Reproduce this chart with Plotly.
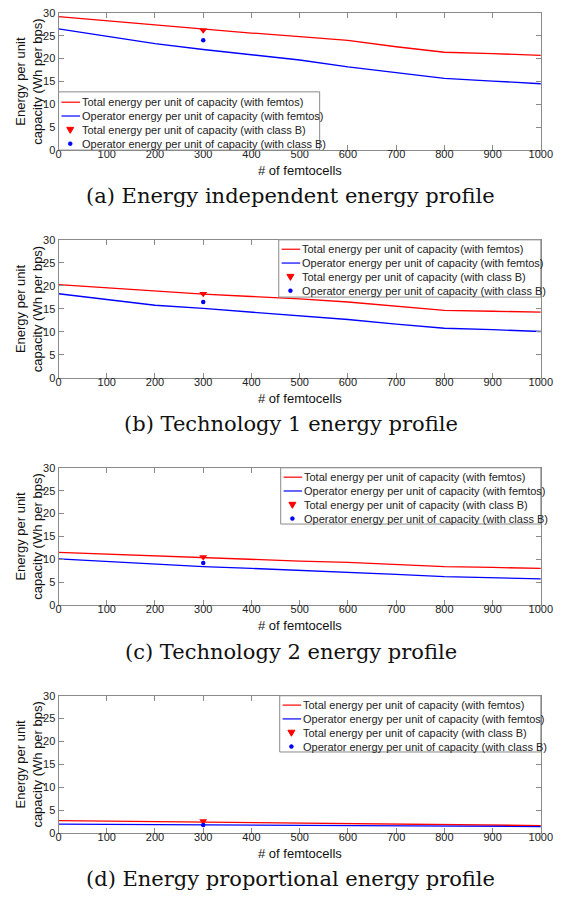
import plotly.graph_objects as go

W, H = 585, 905

x_fem = [0, 100, 200, 300, 400, 500, 600, 700, 800, 900, 1000]
x_classB = [300]

# Panel (a) Energy independent
a_total = [29.2, 28.3, 27.4, 26.4, 25.6, 24.8, 24.0, 22.6, 21.4, 21.1, 20.7]
a_oper = [26.5, 24.9, 23.3, 22.0, 20.9, 19.7, 18.2, 16.9, 15.7, 15.1, 14.5]
a_total_B = [26.2]
a_oper_B = [24.0]

# Panel (b) Technology 1
b_total = [20.3, 19.6, 18.8, 18.2, 17.7, 17.2, 16.5, 15.6, 14.7, 14.5, 14.3]
b_oper = [18.3, 17.0, 15.8, 15.1, 14.3, 13.5, 12.7, 11.7, 10.8, 10.5, 10.1]
b_total_B = [18.3]
b_oper_B = [16.5]

# Panel (c) Technology 2
c_total = [11.5, 11.1, 10.7, 10.3, 10.0, 9.6, 9.3, 8.8, 8.4, 8.2, 8.0]
c_oper = [10.1, 9.5, 8.9, 8.4, 8.0, 7.6, 7.2, 6.7, 6.2, 6.0, 5.7]
c_total_B = [10.5]
c_oper_B = [9.2]

# Panel (d) Energy proportional
d_total = [2.7, 2.6, 2.4, 2.3, 2.2, 2.1, 2.0, 1.9, 1.8, 1.7, 1.6]
d_oper = [1.9, 1.85, 1.8, 1.75, 1.7, 1.65, 1.6, 1.55, 1.5, 1.45, 1.4]
d_total_B = [2.6]
d_oper_B = [1.7]

names = ["Total energy per unit of capacity (with femtos)",
         "Operator energy per unit of capacity (with femtos)",
         "Total energy per unit of capacity (with class B)",
         "Operator energy per unit of capacity (with class B)"]

captions = ["(a) Energy independent energy profile",
            "(b) Technology 1 energy profile",
            "(c) Technology 2 energy profile",
            "(d) Energy proportional energy profile"]

x_ticks = [0, 100, 200, 300, 400, 500, 600, 700, 800, 900, 1000]
y_ticks = [0, 5, 10, 15, 20, 25, 30]

panels = [
    (a_total, a_oper, a_total_B, a_oper_B),
    (b_total, b_oper, b_total_B, b_oper_B),
    (c_total, c_oper, c_total_B, c_oper_B),
    (d_total, d_oper, d_total_B, d_oper_B),
]

RED, BLUE, GRAY = "#ff0000", "#0000ff", "#8a8a8a"
SANS = "Liberation Sans, Arial, sans-serif"

# pixel layout
left_px, right_px = 57, 552
tops = [7, 237, 468, 699]
bottoms = [146, 377, 607, 838]
cap_y = [193, 424, 655, 885]
# legend boxes: (left, top, right, bottom)
leg_boxes = [(57, 87, 325, 146), (283, 237, 552, 295),
             (285, 468, 552, 525), (284, 699, 552, 756)]
leg_text_dx = 22
leg_row_gap = 14


def py(p):
    return 1 - p / H


def px(p):
    return p / W


fig = go.Figure()
annotations = []
shapes = []

for i, (tot, op, totB, opB) in enumerate(panels):
    k = "" if i == 0 else str(i + 1)
    xa, ya = "x" + k, "y" + k
    fig.add_trace(go.Scatter(x=x_fem, y=tot, mode="lines", name=names[0],
                             line=dict(color=RED, width=1.3), showlegend=False,
                             xaxis=xa, yaxis=ya))
    fig.add_trace(go.Scatter(x=x_fem, y=op, mode="lines", name=names[1],
                             line=dict(color=BLUE, width=1.3), showlegend=False,
                             xaxis=xa, yaxis=ya))
    fig.add_trace(go.Scatter(x=x_classB, y=totB, mode="markers", name=names[2],
                             marker=dict(color=RED, symbol="triangle-down", size=7),
                             showlegend=False, xaxis=xa, yaxis=ya))
    fig.add_trace(go.Scatter(x=x_classB, y=opB, mode="markers", name=names[3],
                             marker=dict(color=BLUE, symbol="circle", size=4.5),
                             showlegend=False, xaxis=xa, yaxis=ya))

    dom_y = [py(bottoms[i]), py(tops[i])]
    axcommon = dict(showline=True, linecolor=GRAY, linewidth=1, mirror="ticks",
                    ticks="inside", ticklen=5, tickcolor=GRAY, showgrid=False,
                    zeroline=False, tickfont=dict(family=SANS, size=11, color="#222"))
    fig.layout["xaxis" + k] = dict(domain=[px(left_px), px(right_px)], range=[0, 1000],
                                   tickvals=x_ticks, anchor=ya, ticklabelstandoff=-6,
                                   **axcommon)
    fig.layout["yaxis" + k] = dict(domain=dom_y, range=[0, 30], tickvals=y_ticks,
                                   anchor=xa, **axcommon)

    # manual MATLAB-style legend
    L, T, R, B = leg_boxes[i]
    shapes.append(dict(type="rect", xref="paper", yref="paper",
                       x0=px(L), x1=px(R), y0=py(B), y1=py(T),
                       fillcolor="white", line=dict(color=GRAY, width=1), layer="above"))
    for j in range(4):
        cy = T + 9.5 + j * leg_row_gap + (1 if i == 0 else 0)
        if j < 2:
            shapes.append(dict(type="line", xref="paper", yref="paper",
                               x0=px(L + 3), x1=px(L + leg_text_dx), y0=py(cy), y1=py(cy),
                               line=dict(color=RED if j == 0 else BLUE, width=1.2),
                               layer="above"))
        elif j == 2:
            shapes.append(dict(type="path", xref="paper", yref="paper",
                               xsizemode="pixel", ysizemode="pixel",
                               xanchor=px(L + 12), yanchor=py(cy),
                               path="M -3.5 2.5 L 3.5 2.5 L 0 -3.5 Z",
                               fillcolor=RED, line=dict(color=RED, width=1),
                               layer="above"))
        else:
            shapes.append(dict(type="circle", xref="paper", yref="paper",
                               xsizemode="pixel", ysizemode="pixel",
                               xanchor=px(L + 12), yanchor=py(cy),
                               x0=-2, x1=2, y0=-2, y1=2,
                               fillcolor=BLUE, line=dict(color=BLUE, width=0.5),
                               layer="above"))
        annotations.append(dict(text=names[j], x=px(L + leg_text_dx), y=py(cy),
                                xref="paper", yref="paper", showarrow=False,
                                xanchor="left", yanchor="middle",
                                font=dict(family=SANS, size=11, color="#222")))

    mid_y = (tops[i] + bottoms[i]) / 2
    annotations.append(dict(text="Energy per unit<br>capacity (Wh per bps)",
                            x=px(27), y=py(mid_y), xref="paper", yref="paper",
                            textangle=-90, showarrow=False, xanchor="center",
                            yanchor="middle",
                            font=dict(family=SANS, size=13, color="#111")))
    annotations.append(dict(text="# of femtocells", x=px((left_px + right_px) / 2),
                            y=py(bottoms[i] + 21), xref="paper", yref="paper",
                            showarrow=False, xanchor="center", yanchor="middle",
                            font=dict(family=SANS, size=13, color="#111")))
    annotations.append(dict(text=captions[i], x=px(W / 2 + 3), y=py(cap_y[i]), xref="paper",
                            yref="paper", showarrow=False, xanchor="center",
                            yanchor="middle",
                            font=dict(family="DejaVu Serif, serif", size=21, color="#111")))

fig.update_layout(width=W, height=H, margin=dict(l=0, r=0, t=0, b=0),
                  paper_bgcolor="white", plot_bgcolor="white",
                  annotations=annotations, shapes=shapes, showlegend=False)

fig.write_html("out.html")
